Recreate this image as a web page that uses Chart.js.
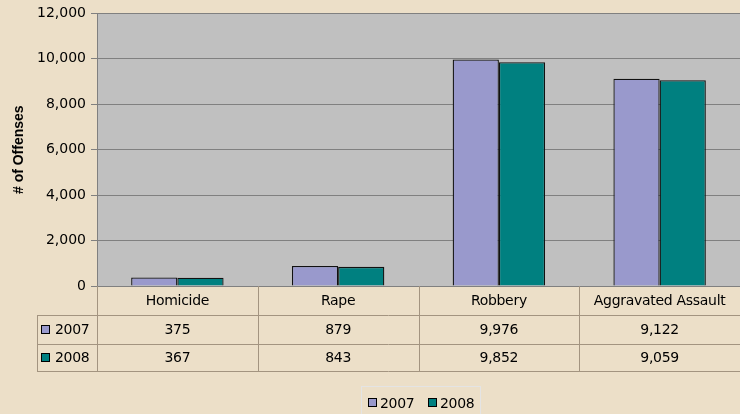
<!DOCTYPE html>
<html>
<head>
<meta charset="utf-8">
<script src="https://cdn.jsdelivr.net/npm/chart.js@4/dist/chart.umd.min.js"></script>
<style>
  html, body { margin: 0; padding: 0; background: #ECDFC8; }
  #wrap { width: 740px; height: 414px; position: relative; }
</style>
</head>
<body>
<div id="wrap"><canvas id="chart"></canvas></div>
<script>
// Dữ liệu biểu đồ
const categories = ['Homicide', 'Rape', 'Robbery', 'Aggravated Assault'];
const offenses2007 = [375, 879, 9976, 9122];
const offenses2008 = [367, 843, 9852, 9059];
const seriesNames = ['2007', '2008'];
const seriesColors = ['#9999CC', '#008080'];
const yTicks = [0, 2000, 4000, 6000, 8000, 10000, 12000];

const FONT = '"DejaVu Sans", sans-serif';
const tableLine = '#A39480';

function fmt(n) { return n.toLocaleString('en-US'); }

// ô vuông màu của series
function drawKey(ctx, x, cy, color) {
    ctx.fillStyle = color;
    ctx.fillRect(x, Math.round(cy) - 4.5, 8, 8);
    ctx.strokeStyle = '#000';
    ctx.lineWidth = 1;
    ctx.strokeRect(x, Math.round(cy) - 4.5, 8, 8);
}

// Vẽ bảng dữ liệu dưới trục x + legend
const dataTablePlugin = {
    id: 'dataTable',
    afterDraw(chart) {
        const ctx = chart.ctx;
        const xs = chart.scales.x;
        const area = chart.chartArea;
        const step = xs.getPixelForValue(1) - xs.getPixelForValue(0);
        const rowTop = area.bottom;
        const rows = [rowTop, rowTop + 29, rowTop + 58, rowTop + 85];
        const leftCol = 37;

        ctx.save();
        ctx.strokeStyle = tableLine;
        ctx.lineWidth = 1;
        ctx.beginPath();
        // đường dọc
        for (let i = 0; i <= categories.length; i++) {
            const x = Math.round(xs.getPixelForValue(0) - step / 2 + i * step) + 0.5;
            ctx.moveTo(x, rows[0]);
            ctx.lineTo(x, rows[3]);
        }
        ctx.moveTo(leftCol + 0.5, rows[1]);
        ctx.lineTo(leftCol + 0.5, rows[3]);
        // đường ngang
        [1, 2, 3].forEach(r => {
            ctx.moveTo(leftCol, Math.round(rows[r]) + 0.5);
            ctx.lineTo(chart.width, Math.round(rows[r]) + 0.5);
        });
        ctx.stroke();

        ctx.fillStyle = '#000';
        ctx.font = '14px ' + FONT;
        ctx.letterSpacing = '-0.3px';
        ctx.textAlign = 'center';
        ctx.textBaseline = 'middle';
        categories.forEach((c, i) => {
            const cx = xs.getPixelForValue(i);
            ctx.fillText(c, cx, (rows[0] + rows[1]) / 2 + 1);
            ctx.fillText(fmt(offenses2007[i]), cx, (rows[1] + rows[2]) / 2 + 1);
            ctx.fillText(fmt(offenses2008[i]), cx, (rows[2] + rows[3]) / 2 + 1);
        });

        // nhãn hàng
        ctx.textAlign = 'left';
        [offenses2007, offenses2008].forEach((s, k) => {
            const cy = (rows[k + 1] + rows[k + 2]) / 2;
            drawKey(ctx, 41.5, cy, seriesColors[k]);
            ctx.fillStyle = '#000';
            ctx.fillText(seriesNames[k], 55, cy + 1);
        });

        // legend phía dưới
        const ly = 403;
        ctx.strokeStyle = '#E4E4E4';
        ctx.strokeRect(361.5, 386.5, 119, 40);
        drawKey(ctx, 368.5, ly, seriesColors[0]);
        ctx.fillStyle = '#000';
        ctx.fillText(seriesNames[0], 380, ly + 1);
        drawKey(ctx, 428.5, ly, seriesColors[1]);
        ctx.fillStyle = '#000';
        ctx.fillText(seriesNames[1], 440, ly + 1);
        ctx.restore();
    }
};

new Chart(document.getElementById('chart'), {
    type: 'bar',
    data: {
        labels: categories,
        datasets: [
            { label: seriesNames[0], data: offenses2007, backgroundColor: seriesColors[0], borderColor: '#111', borderWidth: 1.3 },
            { label: seriesNames[1], data: offenses2008, backgroundColor: seriesColors[1], borderColor: '#111', borderWidth: 1.3 }
        ]
    },
    options: {
        responsive: true,
        maintainAspectRatio: false,
        animation: false,
        layout: { padding: { top: 12, left: 0, right: 0, bottom: 0 } },
        datasets: { bar: { categoryPercentage: 0.575, barPercentage: 1 } },
        plugins: {
            legend: { display: false },
            tooltip: { enabled: false }
        },
        scales: {
            x: {
                grid: { display: false },
                border: { display: false },
                ticks: { display: false },
                afterFit: scale => { scale.height = 128; }
            },
            y: {
                min: 0,
                max: 12000,
                afterBuildTicks: scale => { scale.ticks = yTicks.map(v => ({ value: v })); },
                ticks: {
                    font: { family: FONT, size: 14 },
                    color: '#000',
                    padding: 5,
                    callback: v => fmt(v)
                },
                grid: { color: '#808080', tickLength: 6 },
                border: { color: '#808080' },
                title: {
                    display: true,
                    text: '# of Offenses',
                    font: { family: '"Liberation Sans", Arial, sans-serif', size: 14, weight: 'bold' },
                    color: '#000',
                    padding: { top: 11, bottom: 0 }
                },
                afterFit: scale => { scale.width = 97; }
            }
        }
    },
    plugins: [dataTablePlugin, {
        id: 'plotBg',
        beforeDraw(chart) {
            const a = chart.chartArea;
            chart.ctx.save();
            chart.ctx.fillStyle = '#C0C0C0';
            chart.ctx.fillRect(a.left, a.top, a.right - a.left, a.bottom - a.top);
            chart.ctx.restore();
        }
    }]
});
</script>
</body>
</html>
